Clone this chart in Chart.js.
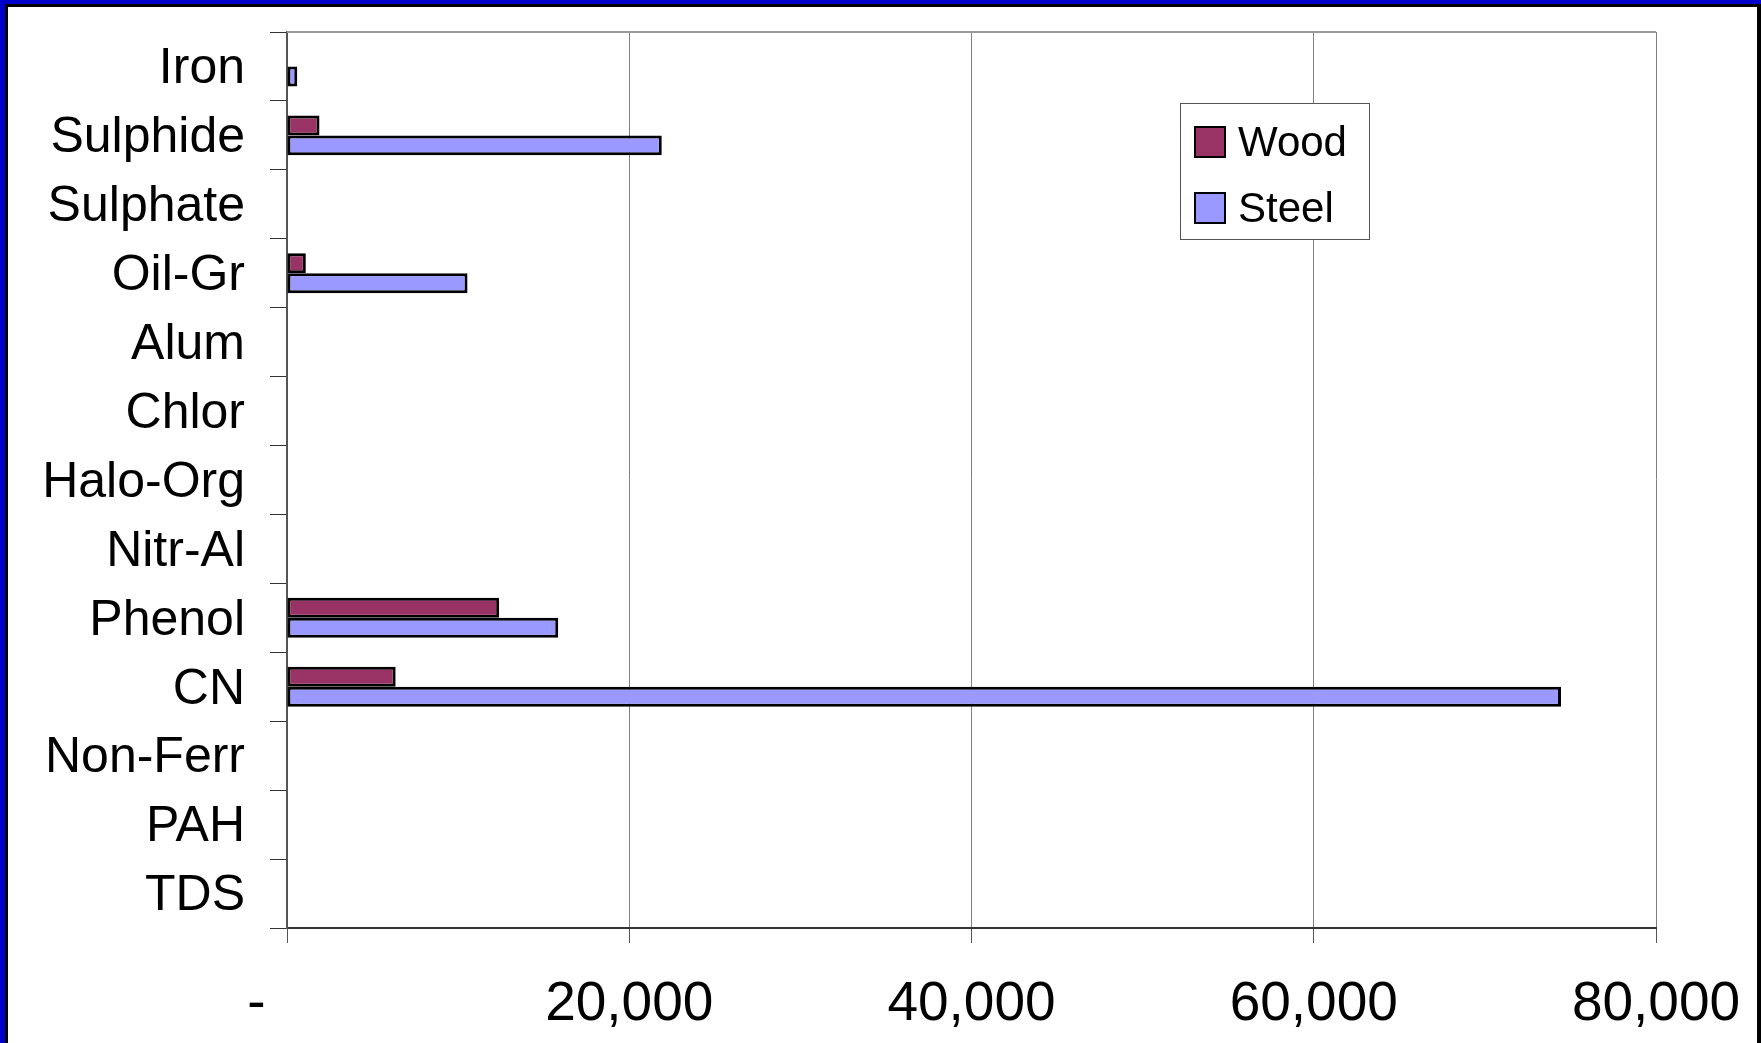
<!DOCTYPE html>
<html>
<head>
<meta charset="utf-8">
<script src="https://cdn.jsdelivr.net/npm/chart.js@4"></script>
<style>
  body { margin: 0; background: #fff; }
  #wrap { position: relative; width: 1761px; height: 1043px; overflow: hidden; }
  #chart { position: absolute; left: 0; top: 0; }
  #frame { position: absolute; left: 0; top: 0; width: 1761px; height: 1043px; box-sizing: border-box;
           border-top: 4px solid #0000CC; border-left: 5px solid #0000CC; pointer-events: none; }
  #frame div { position: absolute; left: 0; top: 0; right: 0; bottom: -4px;
               border-top: 3px solid #000; border-left: 3px solid #000; border-right: 4px solid #000; }
</style>
</head>
<body>
<div id="wrap">
  <canvas id="chart" width="1761" height="1043"></canvas>
  <div id="frame"><div></div></div>
</div>
<script>
const categories = ['Iron', 'Sulphide', 'Sulphate', 'Oil-Gr', 'Alum', 'Chlor', 'Halo-Org',
                    'Nitr-Al', 'Phenol', 'CN', 'Non-Ferr', 'PAH', 'TDS'];
const woodValues  = [0, 1900, 0, 1100, 0, 0, 0, 0, 12400, 6350, 0, 0, 0];
const steelValues = [600, 21900, 0, 10550, 0, 0, 0, 0, 15850, 74450, 0, 0, 0];
const xTicks = [0, 20000, 40000, 60000, 80000];

const font = '"Liberation Sans", Arial, sans-serif';

// gray line along the top of the plot area
const plotTop = {
    id: 'plotTop',
    beforeDatasetsDraw(chart) {
        const a = chart.chartArea;
        const ctx = chart.ctx;
        ctx.save();
        ctx.strokeStyle = '#999999';
        ctx.lineWidth = 2;
        ctx.beginPath();
        ctx.moveTo(a.left, a.top);
        ctx.lineTo(a.right, a.top);
        ctx.stroke();
        ctx.restore();
    }
};

// boxed legend inside the plot, upper right
const boxLegend = {
    id: 'boxLegend',
    afterDraw(chart) {
        const ctx = chart.ctx;
        const x = 1180, y = 103, w = 189, h = 136;
        ctx.save();
        ctx.fillStyle = '#fff';
        ctx.fillRect(x, y, w, h);
        ctx.strokeStyle = '#555';
        ctx.lineWidth = 1;
        ctx.strokeRect(x + 0.5, y + 0.5, w, h);
        ctx.font = '42px ' + font;
        ctx.textBaseline = 'middle';
        chart.data.datasets.forEach((ds, i) => {
            const cy = 142 + i * 66;
            ctx.fillStyle = ds.backgroundColor;
            ctx.fillRect(1195, cy - 15, 30, 30);
            ctx.strokeStyle = '#000';
            ctx.lineWidth = 2;
            ctx.strokeRect(1195, cy - 15, 30, 30);
            ctx.fillStyle = '#000';
            ctx.fillText(ds.label, 1238, cy + 2);
        });
        ctx.restore();
    }
};

new Chart(document.getElementById('chart').getContext('2d'), {
    type: 'bar',
    data: {
        labels: categories,
        datasets: [{
            label: 'Wood',
            data: woodValues,
            backgroundColor: '#993366',
            borderColor: '#000',
            borderWidth: 3,
            borderSkipped: false
        }, {
            label: 'Steel',
            data: steelValues,
            backgroundColor: '#9999FF',
            borderColor: '#000',
            borderWidth: 3,
            borderSkipped: false
        }]
    },
    options: {
        indexAxis: 'y',
        responsive: false,
        animation: false,
        devicePixelRatio: 1,
        categoryPercentage: 0.58,
        barPercentage: 1,
        layout: { padding: { top: 32, right: 105, left: 0, bottom: 0 } },
        plugins: {
            legend: { display: false },
            tooltip: { enabled: false }
        },
        scales: {
            x: {
                min: 0,
                max: 80000,
                afterBuildTicks(scale) {
                    scale.ticks = xTicks.map(v => ({ value: v }));
                },
                afterFit(scale) {
                    scale.height = 115;
                    scale.paddingLeft = 0;
                    scale.paddingRight = 0;
                },
                grid: { color: '#808080', lineWidth: 1, tickLength: 15, tickColor: '#555' },
                border: { color: '#333', width: 2 },
                ticks: {
                    color: '#000',
                    padding: 29,
                    maxRotation: 0,
                    font: { family: font, size: 55 },
                    // zero shows as a dash set left of the axis
                    callback: v => v === 0 ? '-    ' : v.toLocaleString('en-US')
                }
            },
            y: {
                afterFit(scale) {
                    scale.width = 287;
                    scale.paddingTop = 0;
                    scale.paddingBottom = 0;
                },
                grid: { drawOnChartArea: false, color: '#333', tickLength: 17 },
                border: { color: '#555', width: 2 },
                ticks: {
                    color: '#000',
                    padding: 25,
                    labelOffset: 3,
                    autoSkip: false,
                    font: { family: font, size: 50 }
                }
            }
        }
    },
    plugins: [plotTop, boxLegend]
});
</script>
</body>
</html>
